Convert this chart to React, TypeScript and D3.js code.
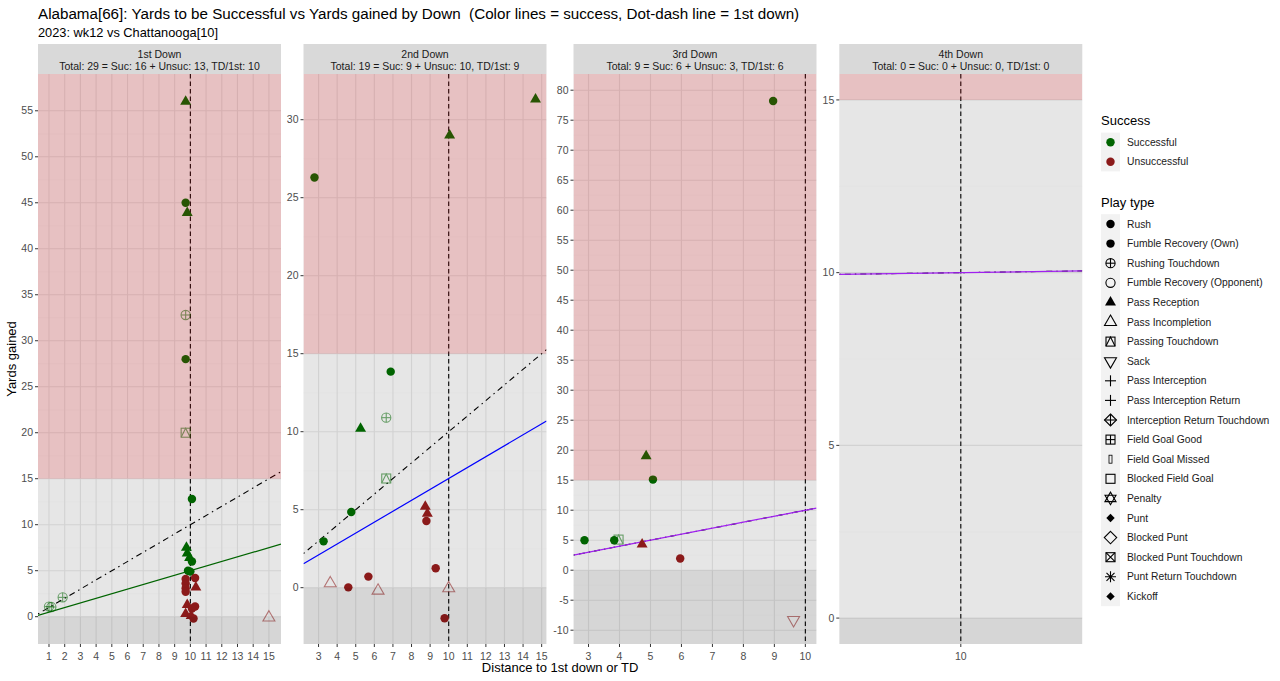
import React from 'react';
import * as d3 from 'd3';

// ---------- text ----------
const TITLE = 'Alabama[66]: Yards to be Successful vs Yards gained by Down  (Color lines = success, Dot-dash line = 1st down)';
const SUBTITLE = '2023: wk12 vs Chattanooga[10]';
const X_TITLE = 'Distance to 1st down or TD';
const Y_TITLE = 'Yards gained';

// ---------- facets ----------
const downLabels = ['1st Down', '2nd Down', '3rd Down', '4th Down'];
const downTotals = [
  'Total: 29 = Suc: 16 + Unsuc: 13, TD/1st: 10',
  'Total: 19 = Suc: 9 + Unsuc: 10, TD/1st: 9',
  'Total: 9 = Suc: 6 + Unsuc: 3, TD/1st: 6',
  'Total: 0 = Suc: 0 + Unsuc: 0, TD/1st: 0',
];
const xLimits: [number, number][] = [[0.3, 15.77], [2.19, 15.26], [2.515, 10.36], [9.5, 10.5]];
const yLimits: [number, number][] = [[-2.97, 59.0], [-3.61, 32.93], [-12.3, 82.7], [-0.75, 15.75]];
const xTicks = [d3.range(1, 16), d3.range(3, 16), d3.range(3, 11), [10]];
const yTicks = [d3.range(0, 56, 5), d3.range(0, 31, 5), d3.range(-10, 81, 5), d3.range(0, 16, 5)];

// reference lines (y = slope * x + intercept)
const successSlope = [0.5, 0.7, 1.0, 0.1];
const successIntercept = [0, 0, 0, 9];
const successColor = ['#006400', '#0000FF', '#A020F0', '#A020F0'];
const firstDownSlope = [1, 1, 1, 0.1];
const firstDownIntercept = [0, 0, 0, 9];
const firstDownDistance = 10;
const bigPlayYards = 15;

// ---------- legend ----------
const successLabels = ['Successful', 'Unsuccessful'];
const successColors = ['#006400', '#8B1A1A'];
const playTypes = [
  'Rush', 'Fumble Recovery (Own)', 'Rushing Touchdown', 'Fumble Recovery (Opponent)',
  'Pass Reception', 'Pass Incompletion', 'Passing Touchdown', 'Sack', 'Pass Interception',
  'Pass Interception Return', 'Interception Return Touchdown', 'Field Goal Good',
  'Field Goal Missed', 'Blocked Field Goal', 'Penalty', 'Punt', 'Blocked Punt',
  'Blocked Punt Touchdown', 'Punt Return Touchdown', 'Kickoff',
];

// ---------- plays: [distance, yards gained, play type, successful(1/0)] ----------
type Play = [number, number, string, number];
const down1Plays: Play[] = [
  [9.7, 56, 'Pass Reception', 1],
  [9.7, 45, 'Rush', 1],
  [9.8, 43.9, 'Pass Reception', 1],
  [9.7, 32.8, 'Rushing Touchdown', 1],
  [9.7, 28, 'Rush', 1],
  [9.7, 20, 'Passing Touchdown', 1],
  [10.1, 12.8, 'Rush', 1],
  [9.75, 7.5, 'Pass Reception', 1],
  [9.8, 6.9, 'Pass Reception', 1],
  [9.95, 6.4, 'Pass Reception', 1],
  [10.1, 6.0, 'Rush', 1],
  [9.85, 5.0, 'Rush', 1],
  [10.0, 4.9, 'Rush', 1],
  [1.0, 1.1, 'Rushing Touchdown', 1],
  [1.15, 1.05, 'Rushing Touchdown', 1],
  [1.87, 2.1, 'Rushing Touchdown', 1],
  [9.7, 4.1, 'Rush', 0],
  [9.7, 3.6, 'Rush', 0],
  [9.7, 3.1, 'Rush', 0],
  [9.7, 2.7, 'Rush', 0],
  [10.3, 4.2, 'Rush', 0],
  [10.35, 3.2, 'Pass Reception', 0],
  [9.8, 1.3, 'Pass Reception', 0],
  [10.3, 1.1, 'Rush', 0],
  [10.1, 0.9, 'Rush', 0],
  [9.7, 0.3, 'Pass Reception', 0],
  [10.05, 0.1, 'Pass Reception', 0],
  [10.2, -0.2, 'Rush', 0],
  [15.0, -0.1, 'Pass Incompletion', 0],
];
const down2Plays: Play[] = [
  [2.78, 26.3, 'Rush', 1],
  [10.05, 29.0, 'Pass Reception', 1],
  [14.67, 31.3, 'Pass Reception', 1],
  [6.88, 13.85, 'Rush', 1],
  [6.64, 10.9, 'Rushing Touchdown', 1],
  [5.26, 10.2, 'Pass Reception', 1],
  [6.64, 7.0, 'Passing Touchdown', 1],
  [4.76, 4.85, 'Rush', 1],
  [3.27, 2.97, 'Rush', 1],
  [8.74, 5.2, 'Pass Reception', 0],
  [8.85, 4.75, 'Pass Reception', 0],
  [8.8, 4.28, 'Rush', 0],
  [9.3, 1.24, 'Rush', 0],
  [5.68, 0.71, 'Rush', 0],
  [4.6, 0.02, 'Rush', 0],
  [9.78, -1.96, 'Rush', 0],
  [3.63, 0.28, 'Pass Incompletion', 0],
  [6.2, -0.19, 'Pass Incompletion', 0],
  [10.0, -0.04, 'Pass Incompletion', 0],
];
const down3Plays: Play[] = [
  [8.96, 78.2, 'Rush', 1],
  [4.86, 19.0, 'Pass Reception', 1],
  [5.08, 15.1, 'Rush', 1],
  [2.87, 5.0, 'Rush', 1],
  [3.83, 5.0, 'Rush', 1],
  [3.97, 5.1, 'Passing Touchdown', 1],
  [4.73, 4.3, 'Pass Reception', 0],
  [5.96, 1.95, 'Rush', 0],
  [9.62, -8.3, 'Sack', 0],
];
const down4Plays: Play[] = [];
const playsByDown = [down1Plays, down2Plays, down3Plays, down4Plays];

// ---------- layout ----------
const W = 1280;
const H = 681;
const PANEL_LEFT = [38, 303.5, 573.5, 839.3];
const PANEL_W = 243;
const STRIP_TOP = 44;
const TOP = 74;
const BOTTOM = 644;
const FONT = "'Liberation Sans', Arial, Helvetica, sans-serif";

const hollowTypes = new Set([
  'Rushing Touchdown', 'Fumble Recovery (Opponent)', 'Pass Incompletion', 'Passing Touchdown', 'Sack',
]);

const sym = (t: d3.SymbolType, s: number) => d3.symbol().type(t).size(s)() as string;

function Shape({ type, color, opacity = 1 }: { type: string; color: string; opacity?: number }) {
  const sw = 1.1;
  const stroke = { fill: 'none', stroke: color, strokeWidth: sw };
  let el: React.ReactNode = null;
  switch (type) {
    case 'Rush':
    case 'Fumble Recovery (Own)':
      el = <path d={sym(d3.symbolCircle, 56)} fill={color} />;
      break;
    case 'Rushing Touchdown':
      el = (
        <g {...stroke}>
          <circle r={4.6} />
          <line x1={-4.6} x2={4.6} />
          <line y1={-4.6} y2={4.6} />
        </g>
      );
      break;
    case 'Fumble Recovery (Opponent)':
      el = <circle r={4.6} {...stroke} />;
      break;
    case 'Pass Reception':
      el = <path d={sym(d3.symbolTriangle, 52)} fill={color} />;
      break;
    case 'Pass Incompletion':
      el = <path d={sym(d3.symbolTriangle, 62)} {...stroke} />;
      break;
    case 'Passing Touchdown':
      el = (
        <g {...stroke}>
          <rect x={-4.5} y={-4.5} width={9} height={9} />
          <path d="M-4.5,4.5L0,-4.5L4.5,4.5" />
        </g>
      );
      break;
    case 'Sack':
      el = <path d={sym(d3.symbolTriangle, 62)} transform="rotate(180)" {...stroke} />;
      break;
    case 'Pass Interception':
    case 'Pass Interception Return':
      el = (
        <g {...stroke}>
          <line x1={-5.5} x2={5.5} />
          <line y1={-5.5} y2={5.5} />
        </g>
      );
      break;
    case 'Interception Return Touchdown':
      el = (
        <g {...stroke}>
          <path d="M0,-6L6,0L0,6L-6,0Z" />
          <line x1={-6} x2={6} />
          <line y1={-6} y2={6} />
        </g>
      );
      break;
    case 'Field Goal Good':
      el = (
        <g {...stroke}>
          <rect x={-4.5} y={-4.5} width={9} height={9} />
          <line x1={-4.5} x2={4.5} />
          <line y1={-4.5} y2={4.5} />
        </g>
      );
      break;
    case 'Field Goal Missed':
      el = <rect x={-1.5} y={-4} width={3} height={8} {...stroke} strokeWidth={0.8} />;
      break;
    case 'Blocked Field Goal':
      el = <rect x={-4.5} y={-4.5} width={9} height={9} {...stroke} />;
      break;
    case 'Penalty':
      el = (
        <g {...stroke}>
          <path d="M-5.5,3.2L0,-6.3L5.5,3.2Z" />
          <path d="M-5.5,-3.2L0,6.3L5.5,-3.2Z" />
        </g>
      );
      break;
    case 'Punt':
    case 'Kickoff':
      el = <path d="M0,-4.2L4.2,0L0,4.2L-4.2,0Z" fill={color} />;
      break;
    case 'Blocked Punt':
      el = <path d="M0,-6.2L6.2,0L0,6.2L-6.2,0Z" {...stroke} />;
      break;
    case 'Blocked Punt Touchdown':
      el = (
        <g {...stroke}>
          <rect x={-4.5} y={-4.5} width={9} height={9} />
          <path d="M-4.5,-4.5L4.5,4.5M-4.5,4.5L4.5,-4.5" />
        </g>
      );
      break;
    case 'Punt Return Touchdown':
      el = (
        <g {...stroke}>
          <path d="M-5.5,0L5.5,0M0,-5.5L0,5.5M-4,-4L4,4M-4,4L4,-4" />
        </g>
      );
      break;
    default:
      el = null;
  }
  return <g opacity={opacity}>{el}</g>;
}

function Panel({ i }: { i: number }) {
  const x0 = PANEL_LEFT[i];
  const x1 = x0 + PANEL_W;
  const xs = d3.scaleLinear().domain(xLimits[i]).range([x0, x1]);
  const ys = d3.scaleLinear().domain(yLimits[i]).range([BOTTOM, TOP]);
  const clipId = `panel-clip-${i}`;
  const [xa, xb] = xLimits[i];
  const successPath = d3
    .line<number>()
    .x((d) => xs(d))
    .y((d) => ys(successSlope[i] * d + successIntercept[i]))([xa, xb]) as string;
  const firstDownPath = d3
    .line<number>()
    .x((d) => xs(d))
    .y((d) => ys(firstDownSlope[i] * d + firstDownIntercept[i]))([xa, xb]) as string;
  const minorY = yTicks[i].slice(0, -1).map((t, k) => (t + yTicks[i][k + 1]) / 2);
  const plays = playsByDown[i];
  const redTop = TOP;
  const redBottom = ys(bigPlayYards);
  const zeroY = ys(0);
  return (
    <g>
      <defs>
        <clipPath id={clipId}>
          <rect x={x0} y={TOP} width={PANEL_W} height={BOTTOM - TOP} />
        </clipPath>
      </defs>
      {/* strip */}
      <rect x={x0} y={STRIP_TOP} width={PANEL_W} height={TOP - STRIP_TOP} fill="#D9D9D9" />
      <text x={x0 + PANEL_W / 2} y={STRIP_TOP + 14} textAnchor="middle" fontSize={10.5} fill="#1A1A1A">
        {downLabels[i]}
      </text>
      <text x={x0 + PANEL_W / 2} y={STRIP_TOP + 25.5} textAnchor="middle" fontSize={10.5} fill="#1A1A1A">
        {downTotals[i]}
      </text>
      {/* panel */}
      <rect x={x0} y={TOP} width={PANEL_W} height={BOTTOM - TOP} fill="#E6E6E6" />
      <g clipPath={`url(#${clipId})`}>
        {minorY.map((t) => (
          <line key={'my' + t} x1={x0} x2={x1} y1={ys(t)} y2={ys(t)} stroke="#E0E0E0" strokeWidth={0.5} />
        ))}
        {yTicks[i].map((t) => (
          <line key={'gy' + t} x1={x0} x2={x1} y1={ys(t)} y2={ys(t)} stroke="#D2D2D2" strokeWidth={1.1} />
        ))}
        {xTicks[i].map((t) => (
          <line key={'gx' + t} x1={xs(t)} x2={xs(t)} y1={TOP} y2={BOTTOM} stroke="#D2D2D2" strokeWidth={1.1} />
        ))}
        <line
          x1={xs(firstDownDistance)}
          x2={xs(firstDownDistance)}
          y1={TOP}
          y2={BOTTOM}
          stroke="#000"
          strokeWidth={1.1}
          strokeDasharray="4.5 3"
        />
        <path d={firstDownPath} fill="none" stroke="#000" strokeWidth={1.1} strokeDasharray="1.5 4 6 4" />
        <path d={successPath} fill="none" stroke={successColor[i]} strokeWidth={1.2} />
        {plays.map(([d, y, type, s], k) => (
          <g key={k} transform={`translate(${xs(d)},${ys(y)})`}>
            <Shape type={type} color={s ? successColors[0] : successColors[1]} opacity={hollowTypes.has(type) ? 0.55 : 1} />
          </g>
        ))}
        {/* zones */}
        <rect x={x0} y={redTop} width={PANEL_W} height={Math.max(0, redBottom - redTop)} fill="rgb(235,10,20)" fillOpacity={0.17} />
        <rect x={x0} y={zeroY} width={PANEL_W} height={Math.max(0, BOTTOM - zeroY)} fill="#000" fillOpacity={0.065} />
      </g>
      {/* y axis */}
      {yTicks[i].map((t) => (
        <g key={'ya' + t}>
          <line x1={x0 - 3} x2={x0} y1={ys(t)} y2={ys(t)} stroke="#333" strokeWidth={1} />
          <text x={x0 - 5} y={ys(t)} dy="0.35em" textAnchor="end" fontSize={10.5} fill="#4D4D4D">
            {t}
          </text>
        </g>
      ))}
      {/* x axis */}
      {xTicks[i].map((t) => (
        <g key={'xa' + t}>
          <line x1={xs(t)} x2={xs(t)} y1={BOTTOM} y2={BOTTOM + 3} stroke="#333" strokeWidth={1} />
          <text x={xs(t)} y={BOTTOM + 16} textAnchor="middle" fontSize={10.5} fill="#4D4D4D">
            {t}
          </text>
        </g>
      ))}
    </g>
  );
}

function Legend() {
  const keyX = 1101;
  const keyW = 19;
  const labelX = 1127;
  const sucStart = 142.3;
  const sucStep = 19.4;
  const ptStart = 224;
  const ptStep = 19.6;
  return (
    <g>
      <text x={keyX} y={124.5} fontSize={13} fill="#000">Success</text>
      <rect x={keyX} y={sucStart - sucStep / 2} width={keyW} height={sucStep * successLabels.length} fill="#F2F2F2" />
      {successLabels.map((lab, k) => (
        <g key={lab}>
          <g transform={`translate(${keyX + keyW / 2},${sucStart + k * sucStep})`}>
            <Shape type="Rush" color={successColors[k]} />
          </g>
          <text x={labelX} y={sucStart + k * sucStep} dy="0.35em" fontSize={10.3} fill="#1A1A1A">
            {lab}
          </text>
        </g>
      ))}
      <text x={keyX} y={207} fontSize={13} fill="#000">Play type</text>
      <rect x={keyX} y={ptStart - ptStep / 2} width={keyW} height={ptStep * playTypes.length} fill="#F2F2F2" />
      {playTypes.map((lab, k) => (
        <g key={lab}>
          <g transform={`translate(${keyX + keyW / 2},${ptStart + k * ptStep})`}>
            <Shape type={lab} color="#000" />
          </g>
          <text x={labelX} y={ptStart + k * ptStep} dy="0.35em" fontSize={10.3} fill="#1A1A1A">
            {lab}
          </text>
        </g>
      ))}
    </g>
  );
}

export default function App() {
  return (
    <svg
      width={W}
      height={H}
      viewBox={`0 0 ${W} ${H}`}
      style={{ position: 'absolute', left: 0, top: 0 }}
      fontFamily={FONT}
    >
      <rect width={W} height={H} fill="#FFFFFF" />
      <text x={38} y={19} fontSize={15.2} fill="#000" style={{ whiteSpace: 'pre' }}>{TITLE}</text>
      <text x={38} y={36.5} fontSize={12.8} fill="#000">{SUBTITLE}</text>
      {downLabels.map((_, i) => (
        <Panel key={i} i={i} />
      ))}
      <text x={(PANEL_LEFT[0] + PANEL_LEFT[3] + PANEL_W) / 2} y={672} textAnchor="middle" fontSize={13} fill="#000">
        {X_TITLE}
      </text>
      <text transform={`translate(16,${(TOP + BOTTOM) / 2}) rotate(-90)`} textAnchor="middle" fontSize={13} fill="#000">
        {Y_TITLE}
      </text>
      <Legend />
    </svg>
  );
}
